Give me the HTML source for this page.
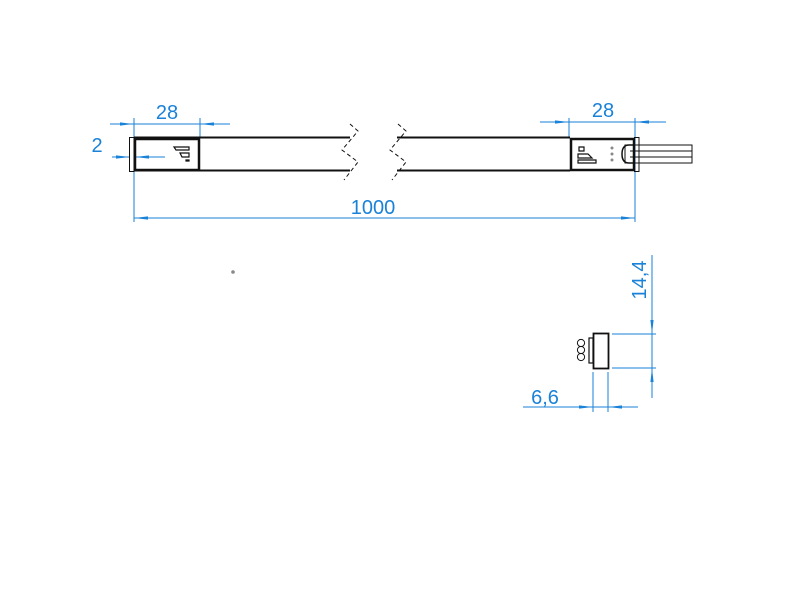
<!DOCTYPE html>
<html><head><style>body{margin:0;background:#fff}svg{display:block}</style></head><body>
<svg width="800" height="600" viewBox="0 0 800 600" xmlns="http://www.w3.org/2000/svg" font-family="Liberation Sans, sans-serif">
<defs>
<marker id="a" viewBox="0 0 14 4" refX="14" refY="2" markerWidth="14" markerHeight="4" orient="auto-start-reverse" markerUnits="userSpaceOnUse"><path d="M0,0.4 L14,2 L0,3.6 Z" fill="#1a82d8"/></marker>
</defs>
<g stroke="#1a82d8" stroke-width="1" fill="none">
<line x1="134" y1="118" x2="134" y2="222"/><line x1="200" y1="118" x2="200" y2="137"/>
<line x1="110" y1="124" x2="134" y2="124" marker-end="url(#a)"/><line x1="230" y1="124" x2="200" y2="124" marker-end="url(#a)"/>
<line x1="134" y1="124" x2="200" y2="124"/>
<line x1="112" y1="157" x2="130" y2="157" marker-end="url(#a)"/><line x1="165" y1="157" x2="135" y2="157" marker-end="url(#a)"/>
<line x1="635" y1="118" x2="635" y2="222"/><line x1="569" y1="118" x2="569" y2="137"/>
<line x1="134" y1="218" x2="635" y2="218" marker-start="url(#a)" marker-end="url(#a)"/>
<line x1="540" y1="122" x2="666" y2="122"/>
<line x1="540" y1="122" x2="569" y2="122" marker-end="url(#a)"/><line x1="666" y1="122" x2="635" y2="122" marker-end="url(#a)"/>
<line x1="612" y1="334" x2="656" y2="334"/><line x1="612" y1="368" x2="656" y2="368"/>
<line x1="652" y1="255" x2="652" y2="398"/>
<line x1="652" y1="310" x2="652" y2="334" marker-end="url(#a)"/><line x1="652" y1="392" x2="652" y2="368" marker-end="url(#a)"/>
<line x1="593" y1="372" x2="593" y2="412"/><line x1="608" y1="372" x2="608" y2="412"/>
<line x1="523" y1="407" x2="638" y2="407"/>
<line x1="570" y1="407" x2="593" y2="407" marker-end="url(#a)"/><line x1="638" y1="407" x2="608" y2="407" marker-end="url(#a)"/>
</g>
<g fill="#1a82d8" font-size="20">
<text x="167" y="119" text-anchor="middle">28</text>
<text x="603" y="117" text-anchor="middle">28</text>
<text x="97" y="152" text-anchor="middle">2</text>
<text x="373" y="214" text-anchor="middle">1000</text>
<text x="545" y="404" text-anchor="middle">6,6</text>
<text transform="translate(646,280) rotate(-90)" text-anchor="middle">14,4</text>
</g>
<g stroke="#111" fill="none">
<line x1="134" y1="137.5" x2="350" y2="137.5" stroke-width="2"/>
<line x1="134" y1="170.5" x2="350" y2="170.5" stroke-width="2"/>
<line x1="397" y1="137.5" x2="570" y2="137.5" stroke-width="2"/>
<line x1="397" y1="170.5" x2="570" y2="170.5" stroke-width="2"/>
<rect x="129.5" y="137.5" width="4.5" height="34" stroke-width="1"/>
<rect x="135" y="139" width="64" height="31" stroke-width="2.5"/>
<rect x="571" y="139" width="63" height="31" stroke-width="2.5"/>
<rect x="634.5" y="137.5" width="4.5" height="34" stroke-width="1"/>
<path d="M174 147 H189 V150 H176 Z M180 153 H189 V157 H182 Z M186 160 H189 V161 H186 Z" stroke-width="1.2"/>
<path d="M579 147 H584 V151 H579 Z M578 154 H588 L592 158 H578 Z M578 160 H596 V163 H578 Z" stroke-width="1.2"/>
<path d="M634 145 H629 Q622 145 622 154 Q622 163 629 163 H634" stroke-width="1.5"/>
<rect x="625" y="145" width="67" height="18" stroke-width="1"/>
<line x1="630" y1="151" x2="692" y2="151"/><line x1="630" y1="157" x2="692" y2="157"/>
<g stroke-dasharray="4,3" stroke-width="1">
<path d="M350 124 L358 131 L342 150 L358 162 L344 180"/>
<path d="M398 124 L406 131 L390 150 L406 162 L392 180"/>
</g>
<rect x="593.5" y="333.5" width="15" height="35" stroke-width="1.8"/>
<rect x="589" y="338" width="4" height="25" stroke-width="1.2"/>
<circle cx="581" cy="343" r="3.6"/><circle cx="581" cy="350" r="3.6"/><circle cx="581" cy="357" r="3.6"/>
</g>
<g fill="#888"><circle cx="612" cy="148" r="1.5"/><circle cx="612" cy="154" r="1.5"/><circle cx="612" cy="160" r="1.5"/><circle cx="233" cy="272" r="1.8"/></g>
</svg>
</body></html>
